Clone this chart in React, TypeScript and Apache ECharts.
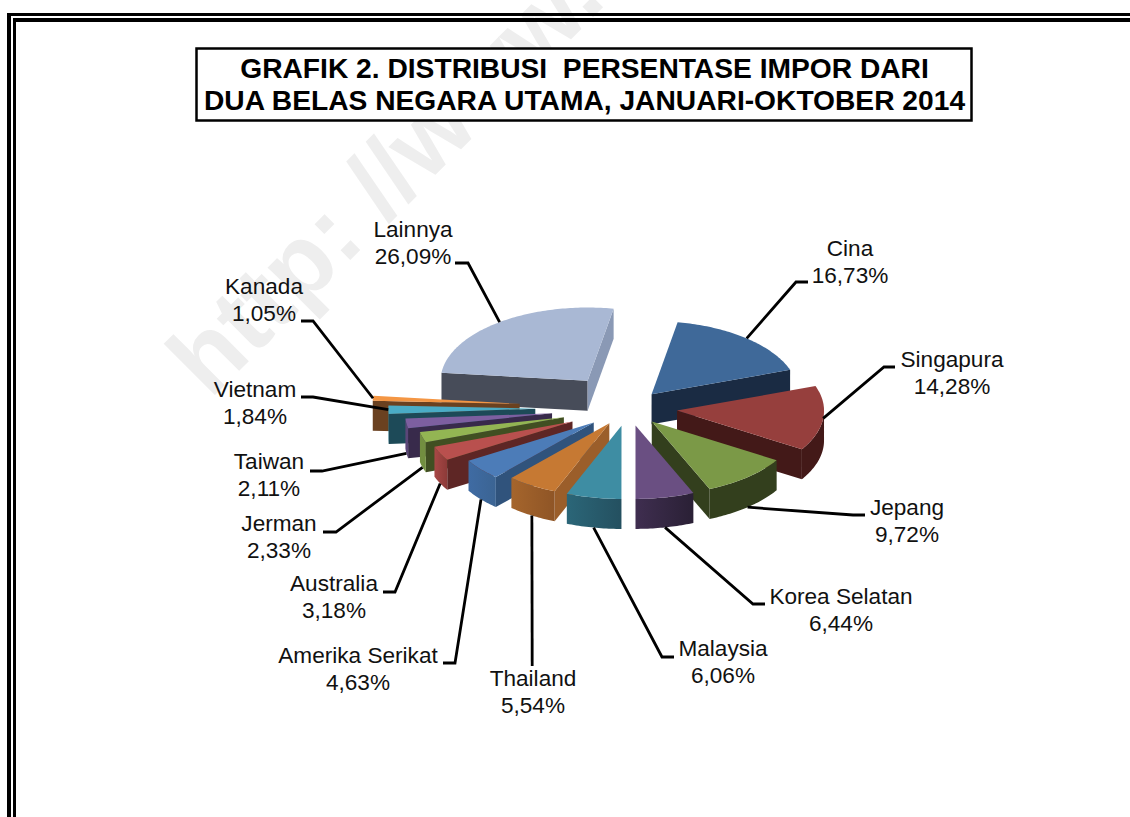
import React, { useEffect, useRef } from "react";
import * as echarts from "echarts";

const FONT = '"Liberation Sans", Arial, sans-serif';
const titleText = "GRAFIK 2. DISTRIBUSI  PERSENTASE IMPOR DARI\nDUA BELAS NEGARA UTAMA, JANUARI-OKTOBER 2014";
const watermarkText = "http: //www.";

const countries = ["Cina", "Singapura", "Jepang", "Korea Selatan", "Malaysia", "Thailand", "Amerika Serikat", "Australia", "Jerman", "Taiwan", "Vietnam", "Kanada", "Lainnya"];
const shares = [16.73, 14.28, 9.72, 6.44, 6.06, 5.54, 4.63, 3.18, 2.33, 2.11, 1.84, 1.05, 26.09];

// Appearance of each slice
const explode = [36, 49, 36, 36, 36, 36, 45, 62, 67, 77, 93, 109, 68];
const topColors = ["#3F6999", "#963F3D", "#7B9947", "#6A4F82", "#3E8DA3", "#C67933", "#4C7CB8", "#B9504E", "#93B553", "#7D5FA0", "#4AACC6", "#F49644", "#A9B8D4"];
const wallLeft = ["#1A2B43", "#431918", "#333F1D", "#3F2E50", "#2B6678", "#A5652C", "#3F6BA3", "#A84846", "#728E40", "#5B4678", "#2F7F93", "#A5652C", "#474C59"];
const wallRight = ["#1A2B43", "#431918", "#333F1D", "#2A2035", "#245060", "#8F5526", "#3B6493", "#8C3A38", "#728E40", "#5B4678", "#2F7F93", "#A5652C", "#474C59"];
const startEdge = ["#1A2B43", "#431918", "#333F1D", "#2A2035", "#245060", "#9B5E2A", "#30537C", "#5E2625", "#414F22", "#382A4B", "#1D4A58", "#6A4120", "#474C59"];
const endEdge = ["#1A2B43", "#431918", "#333F1D", "#2A2035", "#245060", "#9B5E2A", "#30537C", "#5E2625", "#414F22", "#382A4B", "#1D4A58", "#6A4120", "#8A99B5"];

// Label placement: text centre, and the two outer points of the leader line
const labelX = [850, 952, 907, 841, 723, 533, 358, 334, 279, 269, 255, 264, 413];
const labelY = [262, 373, 521, 610, 662, 692, 669, 597, 537, 475, 403, 300, 243];
const leaderOuter = [[808, 282], [895, 367], [865, 515], [765, 604], [674, 657], [532.2, 666], [443, 663], [383, 592], [323, 532], [310, 471], [301, 397], [301, 321], [455, 263]];
const leaderKnee = [[796, 282], [884, 367], [853, 515], [753, 604], [662, 657], [532.2, 666], [455, 663], [395, 592], [336, 532], [322, 471], [313, 397], [313, 321], [468, 263]];

const CX = 628.3, CY = 408, RX = 147, RY = 73.3, DEPTH = 30, START_DEG = 10.2;
const total = shares.reduce((a, b) => a + b, 0);
const rad = (d: number) => (d * Math.PI) / 180;

type Slice = { i: number; a0: number; a1: number; mid: number; ax: number; ay: number };
const slices: Slice[] = [];
{
  let acc = START_DEG;
  shares.forEach((v, i) => {
    const a0 = acc;
    const a1 = acc + (v / total) * 360;
    acc = a1;
    const mid = (a0 + a1) / 2;
    slices.push({ i, a0, a1, mid, ax: CX + explode[i] * Math.sin(rad(mid)), ay: CY - explode[i] * Math.cos(rad(mid)) * (RY / RX) });
  });
}
const paintOrder = [...slices].sort((p, q) => Math.cos(rad(q.mid)) - Math.cos(rad(p.mid)));

const rim = (s: Slice, d: number, dz = 0) => [s.ax + RX * Math.sin(rad(d)), s.ay - RY * Math.cos(rad(d)) + dz];
const arc = (s: Slice, from: number, to: number, dz = 0) => {
  const pts: number[][] = [];
  const n = Math.max(2, Math.ceil(to - from));
  for (let k = 0; k <= n; k++) pts.push(rim(s, from + ((to - from) * k) / n, dz));
  return pts;
};
const fmt = (v: number) => v.toFixed(2).replace(".", ",") + "%";

function renderSlice(params: any) {
  const s = paintOrder[params.dataIndex];
  const i = s.i;
  const children: any[] = [];
  const poly = (points: number[][], fill: any, z2: number) => children.push({ type: "polygon", z2, shape: { points }, style: { fill, stroke: null }, silent: true });
  const base = params.dataIndex * 5;
  const edge = (d: number, fill: string) => {
    const c = rim(s, d);
    poly([[s.ax, s.ay], c, [c[0], c[1] + DEPTH], [s.ax, s.ay + DEPTH]], fill, base);
  };
  if (Math.sin(rad(s.a0)) < 0) edge(s.a0, startEdge[i]);
  if (Math.sin(rad(s.a1)) > 0) edge(s.a1, endEdge[i]);
  const w0 = Math.max(s.a0, 90), w1 = Math.min(s.a1, 270);
  if (w1 > w0) {
    poly([...arc(s, w0, w1), ...arc(s, w0, w1, DEPTH).reverse()],
      new echarts.graphic.LinearGradient(0, 0, 1, 0, [{ offset: 0, color: wallLeft[i] }, { offset: 1, color: wallRight[i] }]), base + 1);
  }
  poly([[s.ax, s.ay], ...arc(s, s.a0, s.a1)], topColors[i], base + 2);

  const c = Math.cos(rad(s.mid));
  const end = rim(s, s.mid, c < -0.12 ? DEPTH : 0);
  children.push({ type: "polyline", z2: 200, shape: { points: [leaderOuter[i], leaderKnee[i], end] }, style: { stroke: "#000", lineWidth: 2.8, fill: null }, silent: true });
  children.push({
    type: "text", z2: 201, silent: true,
    style: { x: labelX[i], y: labelY[i], text: countries[i] + "\n" + fmt(shares[i]), align: "center", verticalAlign: "middle", lineHeight: 26.5, fontSize: 22.6, fontFamily: FONT, fill: "#111" },
  });
  return { type: "group", children };
}

export default function App() {
  const ref = useRef<HTMLDivElement>(null);
  useEffect(() => {
    const chart = echarts.init(ref.current!, undefined, { renderer: "svg" });
    chart.setOption({
      animation: false,
      backgroundColor: "#fff",
      title: {
        text: titleText, left: 584.5, top: 52, textAlign: "center", padding: 0,
        textStyle: { fontFamily: FONT, fontWeight: "bold", fontSize: 28.2, lineHeight: 32, color: "#000" },
      },
      graphic: [
        { type: "text", z: 0, silent: true, x: 150, y: 340, rotation: Math.PI / 4, style: { text: watermarkText, fontFamily: FONT, fontWeight: "bold", fontSize: 100, fill: "#EEEEEE", align: "left", verticalAlign: "top" } },
        { type: "rect", z: 1, silent: true, shape: { x: 7, y: 13, width: 4, height: 804 }, style: { fill: "#000" } },
        { type: "rect", z: 1, silent: true, shape: { x: 7, y: 13, width: 1123, height: 3 }, style: { fill: "#000" } },
        { type: "rect", z: 1, silent: true, shape: { x: 13, y: 18, width: 3, height: 799 }, style: { fill: "#000" } },
        { type: "rect", z: 1, silent: true, shape: { x: 13, y: 18, width: 1117, height: 4 }, style: { fill: "#000" } },
        { type: "rect", z: 1, silent: true, shape: { x: 196.5, y: 48.5, width: 775, height: 72 }, style: { fill: "#fff", stroke: "#000", lineWidth: 2.5 } },
      ],
      series: [{
        type: "custom", coordinateSystem: "none", silent: true, z: 2,
        data: paintOrder.map((s) => [shares[s.i]]),
        renderItem: renderSlice,
      }],
    });
    return () => chart.dispose();
  }, []);
  return <div ref={ref} style={{ position: "fixed", left: 0, top: 0, width: 1130, height: 817 }} />;
}
